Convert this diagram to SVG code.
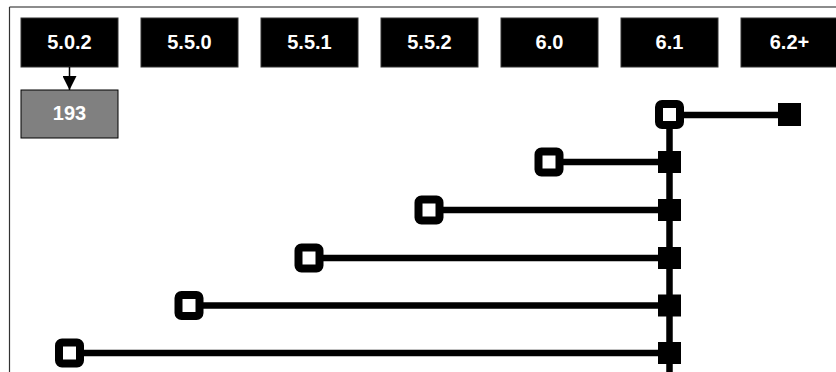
<svg xmlns="http://www.w3.org/2000/svg" width="836" height="372" viewBox="0 0 836 372">
<defs>
<style>
.hdr{fill:#000;stroke:#333;stroke-width:1}
.lbl{font-family:"Liberation Sans",Arial,sans-serif;font-weight:bold;font-size:20px;fill:#fff;text-anchor:middle;dominant-baseline:central}
.ln{stroke:#000;stroke-width:6.5;fill:none}
.open{fill:#fff;stroke:#000;stroke-width:8}
.fill{fill:#000}
</style>
<marker id="arr" viewBox="0 0 14 14" refX="14" refY="7" markerWidth="14" markerHeight="14" markerUnits="userSpaceOnUse" orient="auto">
<path d="M0,0 L14,7 L0,14 z" fill="#000"/>
</marker>
</defs>
<rect width="836" height="372" fill="#fff"/>
<g id="frame">
<line x1="9.5" y1="7" x2="836" y2="7" stroke="#666" stroke-width="1.5"/>
<line x1="9.5" y1="7" x2="9.5" y2="372" stroke="#333" stroke-width="1.2"/>
</g>
<g id="v502"><rect class="hdr" x="21" y="18" width="97" height="49"/><text class="lbl" x="69.5" y="42">5.0.2</text></g>
<g id="v550"><rect class="hdr" x="141" y="18" width="97" height="49"/><text class="lbl" x="189.5" y="42">5.5.0</text></g>
<g id="v551"><rect class="hdr" x="261" y="18" width="97" height="49"/><text class="lbl" x="309.5" y="42">5.5.1</text></g>
<g id="v552"><rect class="hdr" x="381" y="18" width="97" height="49"/><text class="lbl" x="429.5" y="42">5.5.2</text></g>
<g id="v60"><rect class="hdr" x="501" y="18" width="97" height="49"/><text class="lbl" x="549.5" y="42">6.0</text></g>
<g id="v61"><rect class="hdr" x="621" y="18" width="97" height="49"/><text class="lbl" x="669.5" y="42">6.1</text></g>
<g id="v62"><rect class="hdr" x="741" y="18" width="97" height="49"/><text class="lbl" x="789.5" y="42">6.2+</text></g>
<g id="n193"><rect x="21" y="90" width="97" height="48" fill="#808080" stroke="#000" stroke-width="1"/><text class="lbl" x="69.5" y="113" fill="#f2f2f2">193</text></g>
<g id="connectors">
<line x1="69.5" y1="67" x2="69.5" y2="90" stroke="#000" stroke-width="1.5" marker-end="url(#arr)"/>
<line class="ln" x1="669.5" y1="125" x2="669.5" y2="372" stroke-width="7"/>
<line class="ln" x1="669.5" y1="115" x2="789" y2="115"/>
<line class="ln" x1="549" y1="162" x2="669.5" y2="162"/>
<line class="ln" x1="429" y1="210" x2="669.5" y2="210"/>
<line class="ln" x1="309" y1="258" x2="669.5" y2="258"/>
<line class="ln" x1="189" y1="305.5" x2="669.5" y2="305.5"/>
<line class="ln" x1="69.5" y1="353" x2="669.5" y2="353"/>
</g>
<g id="endpoints">
<rect class="fill" x="778" y="103" width="23" height="23"/>
<rect class="fill" x="658" y="151" width="23" height="22"/>
<rect class="fill" x="658" y="199" width="23" height="22"/>
<rect class="fill" x="658" y="247" width="23" height="22"/>
<rect class="fill" x="658" y="294.5" width="23" height="22"/>
<rect class="fill" x="658" y="342" width="23" height="22"/>
<rect class="open" x="659" y="104" width="21" height="21" rx="3"/>
<rect class="open" x="538.5" y="151.5" width="21" height="21" rx="3"/>
<rect class="open" x="418.5" y="199.5" width="21" height="21" rx="3"/>
<rect class="open" x="298.5" y="247.5" width="21" height="21" rx="3"/>
<rect class="open" x="178.5" y="295" width="21" height="21" rx="3"/>
<rect class="open" x="59" y="342.5" width="21" height="21" rx="3"/>
</g>
</svg>
